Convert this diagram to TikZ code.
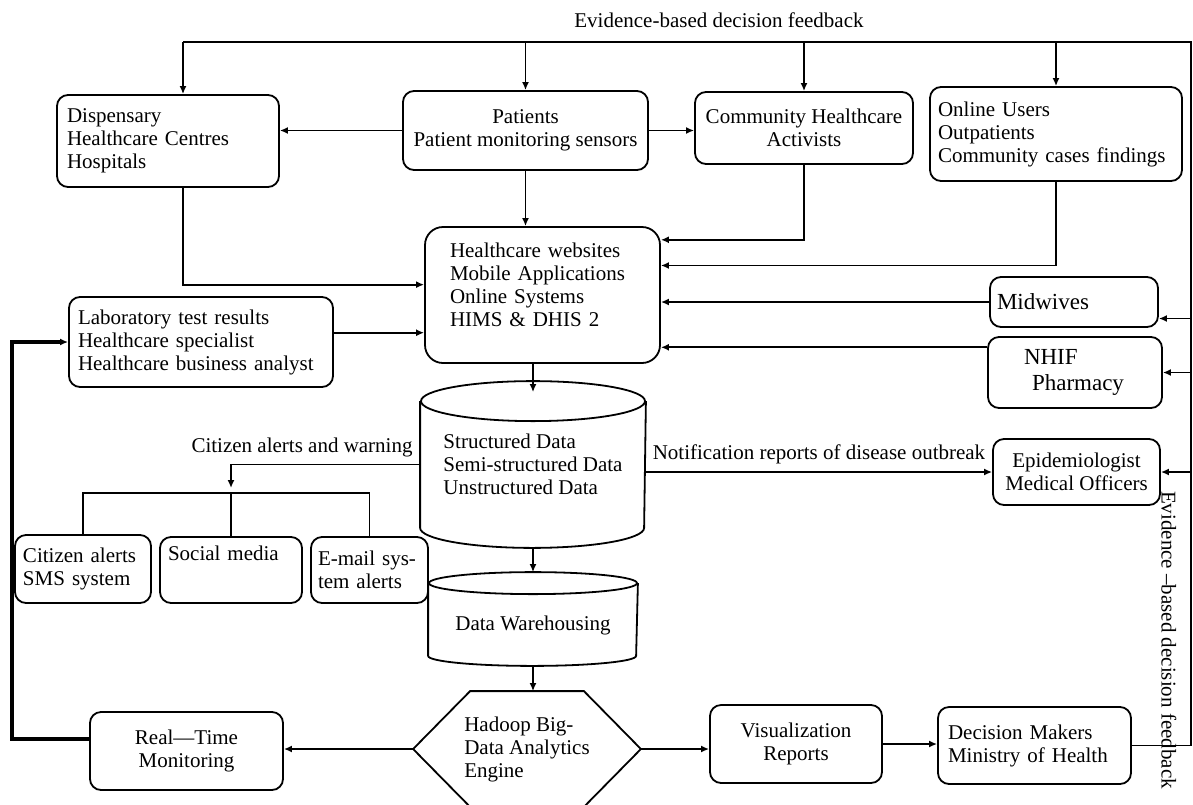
\documentclass[tikz,border=0pt]{standalone}
\usepackage{fontspec}
\setmainfont{Liberation Serif}
\usetikzlibrary{arrows.meta}

\begin{document}
\begin{tikzpicture}[
  x = 0.5pt, y = -0.5pt,
  line width = 0.9pt,
  >= {Latex[length = 4pt, width = 3.5pt]},
  every node/.style = {font = \fontsize{10.5}{11.5}\selectfont},
  box/.style = {draw, rounded corners = 5.5pt, inner xsep = 4pt, inner ysep = 2pt},
  store/.style = {inner sep = 0pt, align = left},
  big/.style = {font = \fontsize{11.5}{13}\selectfont}
  ]
  \useasboundingbox (0,0) rectangle (1193,804);
  \clip (0,0) rectangle (1193,804);

  \node[box, text width = 101pt, inner xsep = 5pt, minimum height = 46pt, align = left] (disp) at (168,141)
    {Dispensary\\Healthcare Centres\\Hospitals};
  \node[box, minimum width = 122.5pt, minimum height = 39.5pt, align = center] (pat) at (525.5,130.5)
    {Patients\\Patient monitoring sensors};
  \node[box, minimum width = 109pt, minimum height = 36pt, align = center] (comm) at (804,128)
    {Community Healthcare\\Activists};
  \node[box, text width = 118pt, minimum height = 47pt, align = left] (online) at (1056,134)
    {Online Users\\Outpatients\\Community cases findings};
  \node[box, rounded corners = 9pt, text width = 92.5pt, inner xsep = 12.5pt, minimum height = 68pt, align = left] (web) at (542.5,295)
    {Healthcare websites\\Mobile Applications\\Online Systems\\HIMS \& DHIS 2\\[-1.5pt]\mbox{}};
  \node[box, big, text width = 77pt, inner xsep = 3.5pt, minimum height = 25pt, align = left] (midw) at (1074,302)
    {Midwives};
  \node[box, big, text width = 51pt, inner xsep = 18pt, minimum height = 35.5pt, align = left] (nhif) at (1075,372.5)
    {NHIF\\\hspace*{4pt}Pharmacy};
  \node[box, text width = 123pt, inner xsep = 4.5pt, minimum height = 45pt, align = left] (lab) at (201,342)
    {Laboratory test results\\Healthcare specialist\\Healthcare business analyst};
  \node[box, minimum width = 83.5pt, minimum height = 33pt, align = center] (epi) at (1076.5,472)
    {Epidemiologist\\Medical Officers};

  \node[box, text width = 60pt, minimum height = 34pt, align = left] (citz) at (83,569)
    {Citizen alerts\\SMS system};
  \node[box, text width = 63pt, minimum height = 33pt, align = left, text depth = 17pt] (soc) at (231,570)
    {Social media};
  \node[box, text width = 51.5pt, inner xsep = 3.5pt, minimum height = 33pt, align = left] (mail) at (369.5,570)
    {E-mail sys-\\tem alerts};

  \node[store, minimum width = 112pt, minimum height = 62.5pt] (sdata) at (533,464.5)
    {Structured Data\\Semi-structured Data\\Unstructured Data};
  \draw (sdata.north west) -- (sdata.south west)
    arc[start angle = 180, end angle = 360, x radius = 56pt, y radius = 10pt] -- (sdata.north east)
    (sdata.north) ellipse [x radius = 56pt, y radius = 10pt];
  \node[store, minimum width = 104pt, minimum height = 30pt] (dw) at (533,625) {Data Warehousing};
  \draw ([yshift = 5.5pt]dw.north west) -- (dw.south west)
    arc[start angle = 180, end angle = 360, x radius = 52pt, y radius = 5pt] -- ([yshift = 5.5pt]dw.north east)
    ([yshift = 5.5pt]dw.north) ellipse [x radius = 52pt, y radius = 5.5pt];
  \node[store, minimum width = 113pt, minimum height = 57pt] (hadoop) at (527,749)
    {Hadoop Big-\\Data Analytics\\Engine};
  \draw ([xshift = 28.5pt]hadoop.north west) -- ([xshift = -28.5pt]hadoop.north east) -- (hadoop.east)
    -- ([xshift = -28.5pt]hadoop.south east) -- ([xshift = 28.5pt]hadoop.south west) -- (hadoop.west) -- cycle;

  \node[box, minimum width = 96.5pt, minimum height = 39pt, align = center] (rt) at (186.5,751)
    {Real—Time\\Monitoring};
  \node[box, minimum width = 86pt, minimum height = 39pt, align = center] (vis) at (796,744)
    {Visualization\\Reports};
  \node[box, text width = 86.5pt, inner xsep = 5pt, minimum height = 38.5pt, align = left] (dec) at (1034.5,745.5)
    {Decision Makers\\Ministry of Health};

  \node (fbtxt) at (719,20) {Evidence-based decision feedback};
  \node[rotate = -90] (fbside) at (1169,640) {Evidence –based decision feedback};

  \coordinate (fbl) at (183,42);
  \coordinate (fbr) at (1191,42);
  \coordinate (split) at (231,493);

  \draw (dec.east) -| (fbr) -- (fbl);
  \draw[->] (fbl) -- (fbl |- disp.north);
  \draw[->] (pat.north |- fbl) -- (pat.north);
  \draw[->] (comm.north |- fbl) -- (comm.north);
  \draw[->] (online.north |- fbl) -- (online.north);
  \draw[->] (midw.-11 -| fbr) -- (midw.-11);
  \draw[->] (nhif.east -| fbr) -- (nhif.east);
  \draw[->] (epi.east -| fbr) -- (epi.east);

  \draw[->] (pat.west) -- (pat.west -| disp.east);
  \draw[->] (pat.east) -- (pat.east -| comm.west);
  \draw[->] (pat.south) -- (pat.south |- web.north);
  \draw[->] (fbl |- disp.south) |- (web.175);
  \draw[->] (comm.south) |- (web.25);
  \draw[->] (online.south) |- (web.14);
  \draw[->] (midw.west) -- (midw.west -| web.east);
  \draw[->] (nhif.164) -- (nhif.164 -| web.east);
  \draw[->] (lab.4) -- (lab.4 -| web.west);

  \draw[->, shorten >= 4.5pt] (sdata.north |- web.south) -- (sdata.north);
  \draw[->] ([yshift = -10pt]sdata.south) -- ([yshift = 11pt]dw.north);
  \draw[->] ([yshift = -5pt]dw.south) -- (dw.south |- hadoop.north);

  \draw[->] (sdata.west) -| ([yshift = 2.5pt]split) node[pos = 0, above left] (warn) {Citizen alerts and warning};
  \draw (citz.north) |- (split) -| (mail.north);
  \draw (split) -- (soc.north);
  \draw[->] (epi.west -| sdata.east) -- (epi.west)
    node[midway, above] (notif) {Notification reports of disease outbreak};

  \draw[->] (hadoop.west) -- (rt.east |- hadoop.west);
  \draw[->] (hadoop.east) -- (hadoop.east -| vis.west);
  \draw[->] (vis.east) -- (vis.east -| dec.west);
  \draw[->, line width = 1.8pt] (rt.173) -- ++(-38.5pt,0) |- (lab.west);
\end{tikzpicture}
\end{document}
